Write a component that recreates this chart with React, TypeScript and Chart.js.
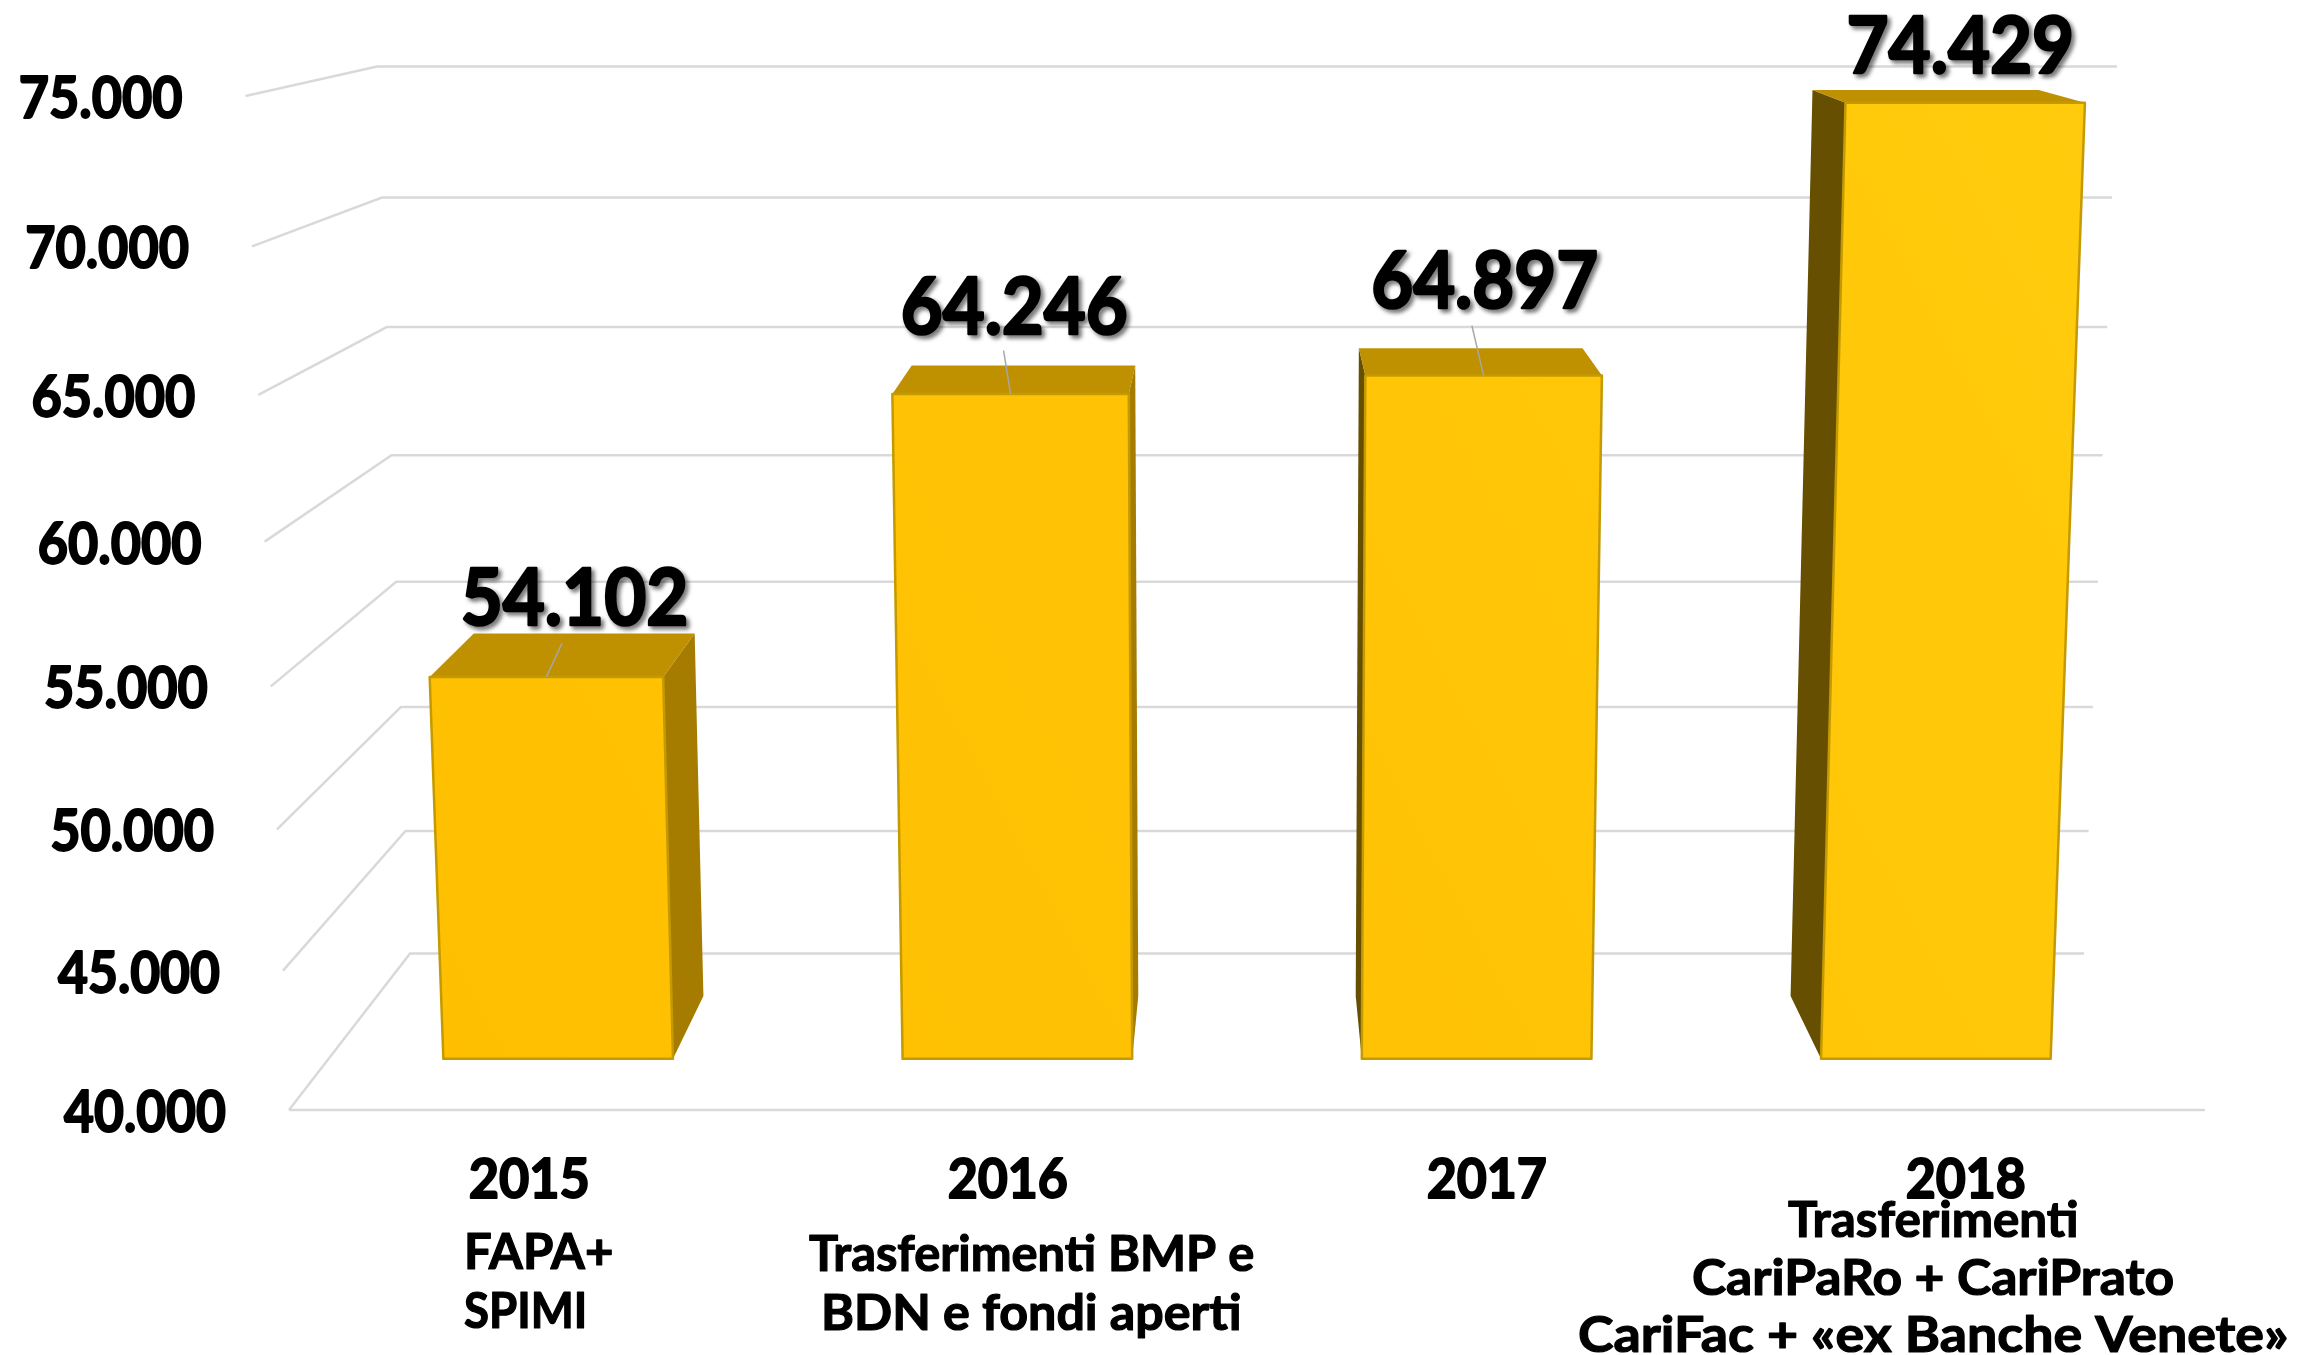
import React, { useEffect, useRef } from "react";
import { Chart, registerables, BarController } from "chart.js";

const categories = ["2015", "2016", "2017", "2018"];
const values = [54102, 64246, 64897, 74429];
const yMin = 40000;
const yMax = 75000;
const yStep = 5000;
const noteLines = [
  "FAPA+",
  "SPIMI",
  "Trasferimenti BMP e",
  "BDN e fondi aperti",
  "Trasferimenti",
  "CariPaRo + CariPrato",
  "CariFac + «ex Banche Venete»",
];

// ---- layout (not data) ----
const W = 2308;
const H = 1355;
const CX = 1247;
const FLOOR_W = 1916;
const AREA = { left: 289, right: 2205, top: 96, bottom: 1110 };
const DEPTH_FRONT = 0.298;
const DEPTH_BACK = 0.702;
const noteBoxes = [
  [467, 612, 1251],
  [465, 584, 1310],
  [809, 1253, 1253],
  [824, 1240, 1312],
  [1788, 2077, 1219],
  [1693, 2173, 1277],
  [1579, 2287, 1334],
];
const labelNudge = [
  [28, -81],
  [4, -90],
  [1.4, -97],
  [-5, -59.5],
];
const leaderNudge = [
  [15.5, -33.5],
  [-7, -43.5],
  [-11.7, -50],
  null,
];
const FONT = "Lato";

function project(u: number, v: number, d: number) {
  const z = 1 - 0.0434 * v + 0.1446 * d;
  return {
    x: CX + ((u - 0.5) * FLOOR_W) / z,
    y: (1110 - 1018.2 * v - 18.5 * d) / z,
  };
}

function poly(ctx: any, pts: { x: number; y: number }[], fill: any, stroke?: string, lw = 1.5) {
  ctx.beginPath();
  pts.forEach((p, i) => (i ? ctx.lineTo(p.x, p.y) : ctx.moveTo(p.x, p.y)));
  ctx.closePath();
  ctx.fillStyle = fill;
  ctx.fill();
  if (stroke) {
    ctx.strokeStyle = stroke;
    ctx.lineWidth = lw;
    ctx.lineJoin = "round";
    ctx.stroke();
  }
}

function fitText(
  ctx: any,
  text: string,
  left: number,
  right: number,
  midY: number,
  size: number,
  weightStroke = 0
) {
  ctx.save();
  ctx.font = `bold ${size}px ${FONT}`;
  ctx.textAlign = "left";
  ctx.textBaseline = "alphabetic";
  const m = ctx.measureText(text);
  const cap = ctx.measureText("H").actualBoundingBoxAscent;
  const inkL = m.actualBoundingBoxLeft;
  const inkW = m.actualBoundingBoxLeft + m.actualBoundingBoxRight;
  const sx = (right - left) / inkW;
  ctx.translate(left, midY + cap / 2);
  ctx.scale(sx, 1);
  ctx.fillStyle = "#000";
  if (weightStroke) {
    ctx.strokeStyle = "#000";
    ctx.lineWidth = weightStroke;
    ctx.lineJoin = "round";
    ctx.strokeText(text, inkL, 0);
  }
  ctx.fillText(text, inkL, 0);
  ctx.restore();
}

class Bar3DController extends BarController {
  static id = "bar3d";
  static defaults = { ...(BarController as any).defaults };
  draw() {
    const chart: any = (this as any).chart;
    const ctx = chart.ctx;
    const a = chart.chartArea;
    const meta = (this as any)._cachedMeta;
    const grad = ctx.createLinearGradient(a.left, a.bottom, a.right, a.top);
    grad.addColorStop(0, "#FFBF00");
    grad.addColorStop(0.5, "#FFC305");
    grad.addColorStop(1, "#FFCD0D");
    meta.data.forEach((el: any) => {
      const uL = (el.x - el.width / 2 - a.left) / a.width;
      const uR = (el.x + el.width / 2 - a.left) / a.width;
      const v = (a.bottom - el.y) / a.height;
      const fBL = project(uL, 0, DEPTH_FRONT);
      const fBR = project(uR, 0, DEPTH_FRONT);
      const fTL = project(uL, v, DEPTH_FRONT);
      const fTR = project(uR, v, DEPTH_FRONT);
      const bBL = project(uL, 0, DEPTH_BACK);
      const bBR = project(uR, 0, DEPTH_BACK);
      const bTL = project(uL, v, DEPTH_BACK);
      const bTR = project(uR, v, DEPTH_BACK);
      if (bBR.x > fBR.x) poly(ctx, [fBR, bBR, bTR, fTR], "#A67C00");
      if (bBL.x < fBL.x) poly(ctx, [fBL, bBL, bTL, fTL], "#664F00");
      poly(ctx, [fTL, fTR, bTR, bTL], "#BF9000");
      poly(ctx, [fBL, fBR, fTR, fTL], grad, "#C49A00", 2.5);
    });
  }
}

const perspectivePlugin = {
  id: "perspective",
  beforeDatasetsDraw(chart: any) {
    const ctx = chart.ctx;
    const y = chart.scales.y;
    const a = chart.chartArea;
    ctx.save();
    ctx.strokeStyle = "#D9D9D9";
    ctx.lineWidth = 2.5;
    y.ticks.forEach((t: any) => {
      const v = (a.bottom - y.getPixelForValue(t.value)) / a.height;
      const p0 = project(0, v, 0);
      const p1 = project(0, v, 1);
      const p2 = project(1, v, 1);
      ctx.beginPath();
      ctx.moveTo(p0.x, p0.y);
      ctx.lineTo(p1.x, p1.y);
      ctx.lineTo(p2.x, p2.y);
      ctx.stroke();
    });
    const f0 = project(0, 0, 0);
    const f1 = project(1, 0, 0);
    ctx.beginPath();
    ctx.moveTo(f0.x, f0.y);
    ctx.lineTo(f1.x, f1.y);
    ctx.stroke();
    ctx.restore();
  },
  afterDatasetsDraw(chart: any) {
    const ctx = chart.ctx;
    const x = chart.scales.x;
    const y = chart.scales.y;
    const a = chart.chartArea;
    // value axis labels sit on the front ends of the wall lines
    y.ticks.forEach((t: any) => {
      const v = (a.bottom - y.getPixelForValue(t.value)) / a.height;
      const p = project(0, v, 0);
      fitText(ctx, t.label, p.x - 225, p.x - 64, p.y + 1, 57, 2);
    });
    // category labels
    categories.forEach((c, i) => {
      const cx = x.getPixelForTick(i);
      fitText(ctx, c, cx - 58, cx + 59, 1178, 56, 2);
    });
    // note lines
    noteLines.forEach((line, i) => {
      const [l, r, my] = noteBoxes[i];
      fitText(ctx, line, l, r, my, 49, 1.2);
    });
    // leader lines and value labels
    const meta = chart.getDatasetMeta(0);
    meta.data.forEach((el: any, i: number) => {
      const v = (a.bottom - el.y) / a.height;
      const u = (el.x - a.left) / a.width;
      const top = project(u, v, DEPTH_FRONT);
      const ln = leaderNudge[i];
      if (ln) {
        ctx.save();
        ctx.strokeStyle = "#A6A6A6";
        ctx.lineWidth = 1.5;
        ctx.beginPath();
        ctx.moveTo(top.x + ln[0], top.y + ln[1]);
        ctx.lineTo(top.x, top.y);
        ctx.stroke();
        ctx.restore();
      }
      const [dx, dy] = labelNudge[i];
      const cxl = top.x + dx;
      const cyl = top.y + dy;
      ctx.save();
      ctx.shadowColor = "rgba(0,0,0,0.5)";
      ctx.shadowBlur = 4;
      ctx.shadowOffsetX = 3;
      ctx.shadowOffsetY = 3;
      fitText(ctx, fmt(values[i]), cxl - 111, cxl + 111, cyl + 1, 78, 2.5);
      ctx.restore();
    });
  },
};

function fmt(n: number) {
  return String(n).replace(/\B(?=(\d{3})+$)/g, ".");
}

Chart.register(...registerables, Bar3DController as any);

export default function App() {
  const ref = useRef<HTMLCanvasElement | null>(null);
  useEffect(() => {
    if (!ref.current) return;
    const chart = new Chart(ref.current, {
      type: "bar3d" as any,
      data: {
        labels: categories,
        datasets: [
          {
            label: "Valori",
            data: values,
            backgroundColor: "#FFC000",
            categoryPercentage: 1,
            barPercentage: 0.5,
            clip: false,
          } as any,
        ],
      },
      options: {
        animation: false,
        responsive: false,
        devicePixelRatio: 1,
        layout: {
          padding: {
            left: AREA.left,
            right: W - AREA.right,
            top: AREA.top,
            bottom: H - AREA.bottom,
          },
        },
        plugins: { legend: { display: false }, title: { display: false }, tooltip: { enabled: false } },
        scales: {
          x: { type: "category", display: false, offset: true, grid: { display: false } },
          y: {
            type: "linear",
            display: false,
            min: yMin,
            max: yMax,
            grid: { display: false },
            ticks: { stepSize: yStep, callback: (val: any) => fmt(Number(val)) },
          },
        },
      } as any,
      plugins: [perspectivePlugin],
    });
    return () => chart.destroy();
  }, []);
  return (
    <div style={{ position: "absolute", left: 0, top: 0, width: W, height: H, background: "#fff" }}>
      <canvas ref={ref} width={W} height={H} style={{ display: "block", width: W, height: H }} />
    </div>
  );
}
